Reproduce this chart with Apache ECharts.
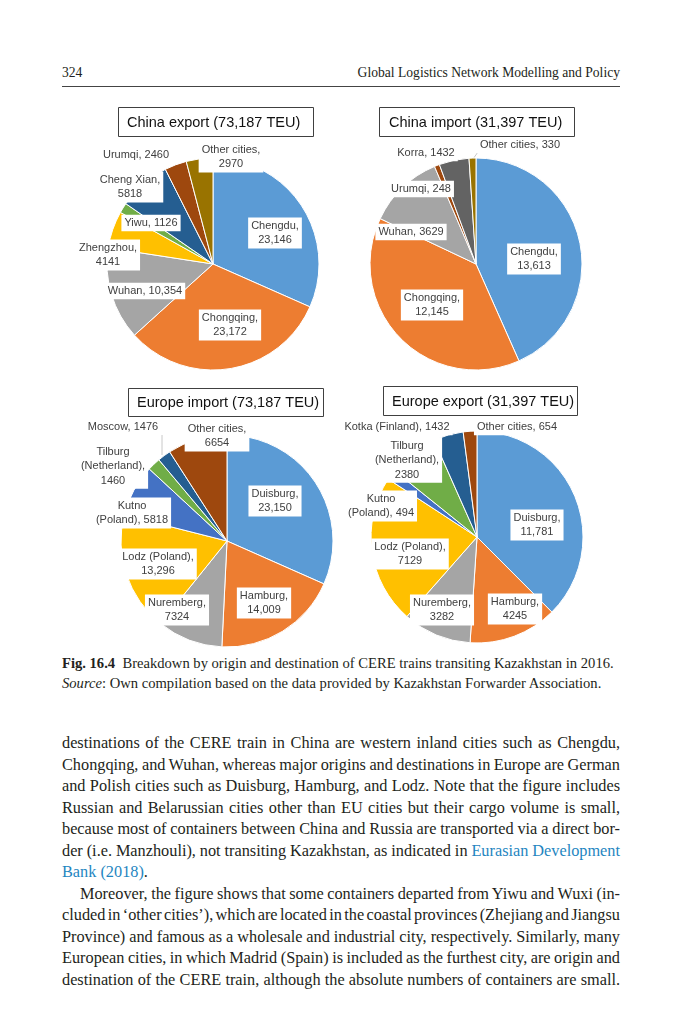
<!DOCTYPE html>
<html><head><meta charset="utf-8">
<script src="https://cdn.jsdelivr.net/npm/echarts@6/dist/echarts.min.js"></script>
<style>
html,body{margin:0;padding:0;background:#fff}
#page{position:relative;width:682px;height:1024px;overflow:hidden;font-family:"Liberation Serif","Times New Roman",serif;color:#231f20;background:#fff}
.abs{position:absolute;white-space:nowrap}
#chart{position:absolute;left:0;top:0;width:682px;height:1024px;z-index:2}
.ln{position:absolute;left:62px;width:558px;white-space:nowrap;font-size:16.3px;line-height:21px;height:21px}
.cap{position:absolute;left:62px;white-space:nowrap;font-size:14.6px;line-height:18px}
a{color:#1f86c1;text-decoration:none}
</style></head>
<body><div id="page">
<div class="abs" style="left:62px;top:65px;font-size:13.6px;line-height:16px">324</div>
<div class="abs" style="right:62px;top:65px;font-size:13.6px;line-height:16px">Global Logistics Network Modelling and Policy</div>
<div class="abs" style="left:62px;top:86px;width:558px;height:1px;background:#444"></div>

<div class="cap" style="top:654px"><b>Fig. 16.4</b>&nbsp;&nbsp;Breakdown by origin and destination of CERE trains transiting Kazakhstan in 2016.</div>
<div class="cap" style="top:674px"><i>Source</i>: Own compilation based on the data provided by Kazakhstan Forwarder Association.</div>

<div class="ln j" style="top:732px"><span>destinations of the CERE train in China are western inland cities such as Chengdu,</span></div>
<div class="ln j" style="top:754px"><span>Chongqing, and Wuhan, whereas major origins and destinations in Europe are German</span></div>
<div class="ln j" style="top:775px"><span>and Polish cities such as Duisburg, Hamburg, and Lodz. Note that the figure includes</span></div>
<div class="ln j" style="top:797px"><span>Russian and Belarussian cities other than EU cities but their cargo volume is small,</span></div>
<div class="ln j" style="top:818px"><span>because most of containers between China and Russia are transported via a direct bor-</span></div>
<div class="ln j" style="top:840px"><span>der (i.e. Manzhouli), not transiting Kazakhstan, as indicated in <a>Eurasian Development</a></span></div>
<div class="ln" style="top:861px"><span><a>Bank (2018)</a>.</span></div>
<div class="ln j" style="top:883px;left:80px;width:540px"><span>Moreover, the figure shows that some containers departed from Yiwu and Wuxi (in-</span></div>
<div class="ln j" style="top:904px"><span>cluded in ‘other cities’), which are located in the coastal provinces (Zhejiang and Jiangsu</span></div>
<div class="ln j" style="top:926px"><span>Province) and famous as a wholesale and industrial city, respectively. Similarly, many</span></div>
<div class="ln j" style="top:947px"><span>European cities, in which Madrid (Spain) is included as the furthest city, are origin and</span></div>
<div class="ln j" style="top:969px"><span>destination of the CERE train, although the absolute numbers of containers are small.</span></div>

<div id="chart"></div>
</div>
<script>
// ---------------- DATA ----------------
const TITLES = ['China export (73,187 TEU)', 'China import (31,397 TEU)', 'Europe import (73,187 TEU)', 'Europe export (31,397 TEU)'];

const CN_EXP_CAT = ['Chengdu', 'Chongqing', 'Wuhan', 'Zhengzhou', 'Yiwu', 'Cheng Xian', 'Urumqi', 'Other cities'];
const CN_EXP_VAL = [23146, 23172, 10354, 4141, 1126, 5818, 2460, 2970];

const CN_IMP_CAT = ['Chengdu', 'Chongqing', 'Wuhan', 'Urumqi', 'Korra', 'Other cities'];
const CN_IMP_VAL = [13613, 12145, 3629, 248, 1432, 330];

const EU_IMP_CAT = ['Duisburg', 'Hamburg', 'Nuremberg', 'Lodz (Poland)', 'Kutno (Poland)', 'Tilburg (Netherland)', 'Moscow', 'Other cities'];
const EU_IMP_VAL = [23150, 14009, 7324, 13296, 5818, 1460, 1476, 6654];

const EU_EXP_CAT = ['Duisburg', 'Hamburg', 'Nuremberg', 'Lodz (Poland)', 'Kutno (Poland)', 'Tilburg (Netherland)', 'Kotka (Finland)', 'Other cities'];
const EU_EXP_VAL = [11781, 4245, 3282, 7129, 494, 2380, 1432, 654];

// ---------------- STYLE / LAYOUT ----------------
const C = {blue:'#5B9BD5', orange:'#ED7D31', gray:'#A5A5A5', gold:'#FFC000', blue2:'#4472C4', green:'#70AD47', dblue:'#255E91', brown:'#9E480E', dgray:'#636363', olive:'#997300'};
const COLORS = [
  [C.blue, C.orange, C.gray, C.gold, C.green, C.dblue, C.brown, C.olive],
  [C.blue, C.orange, C.gray, C.brown, C.dgray, C.olive],
  [C.blue, C.orange, C.gray, C.gold, C.blue2, C.green, C.dblue, C.brown],
  [C.blue, C.orange, C.gray, C.gold, C.blue2, C.green, C.dblue, C.brown]
];
const RADIUS = 106;
// label: [x, y, breakName, breakValue, linePoints]
const LAYOUT = [
  {center:[213,264], box:[118,107,195,29], textX:127, labels:[
    [275,233,0,1],[230,325,0,1],[145,291,0,0],[108,255,0,1],[151,223,0,0],[130,187,0,1],[136,155,0,0],[231,157,0,1]]},
  {center:[476,264], box:[379,107,195,29], textX:389, labels:[
    [534,259,0,1],[432,305,0,1],[411,232,0,0],[421,189,0,0],[426,153,0,0],[520,145,0,0,[[473,159],[478,152]]]]},
  {center:[227,541], box:[128,388,195,28], textX:137, labels:[
    [275,501,0,1],[264,603,0,1],[177,610,0,1],[158,564,0,1],[132,513,1,0],[113,466,1,1],[123,427,0,0,[[162,455],[162,435]]],[217,436,0,1]]},
  {center:[477,537], box:[383,386,194,29], textX:392, labels:[
    [537,525,0,1],[515,609,0,1],[442,610,0,1],[410,554,0,1],[381,506,1,0],[407,460,1,1],[397,427,0,0],[517,427,0,0]]}
];

const CATS = [CN_EXP_CAT, CN_IMP_CAT, EU_IMP_CAT, EU_EXP_CAT];
const VALS = [CN_EXP_VAL, CN_IMP_VAL, EU_IMP_VAL, EU_EXP_VAL];

function fmtNum(v){ const s = String(v); return v >= 10000 ? s.replace(/\B(?=(\d{3})+(?!\d))/g, ',') : s; }
function fmtLabel(name, v, L){
  const n = L[2] ? name.replace(' (', '\n(') : name;
  return n + (L[3] ? ',\n' : ', ') + fmtNum(v);
}

function mkSeries(k){
  const p = LAYOUT[k];
  return {
    type:'pie', center:p.center, radius:RADIUS, startAngle:90, clockwise:true,
    avoidLabelOverlap:false, animation:false, silent:true,
    itemStyle:{borderColor:'#fff', borderWidth:1},
    label:{show:true, position:'outside',
      formatter:(prm)=>fmtLabel(prm.name, prm.value, p.labels[prm.dataIndex]),
      fontFamily:'"Liberation Sans", Arial, sans-serif', fontSize:11, color:'#404040',
      backgroundColor:'#fff', padding:[1,3], lineHeight:14.5},
    labelLine:{show:false},
    labelLayout:(prm)=>{
      const L = p.labels[prm.dataIndex];
      const o = {x:L[0], y:L[1], align:'center', verticalAlign:'middle'};
      if (L[4]) o.labelLinePoints = L[4];
      return o;
    },
    data: CATS[k].map((c,i)=>{
      const d = {name:c, value:VALS[k][i], itemStyle:{color:COLORS[k][i]}};
      if (p.labels[i][4]) d.labelLine = {show:true, lineStyle:{color:'#c8c8c8', width:1}};
      return d;
    })
  };
}

const graphics = [];
LAYOUT.forEach((p,k)=>{
  graphics.push({type:'rect', shape:{x:p.box[0]+0.5, y:p.box[1]+0.5, width:p.box[2], height:p.box[3]},
    style:{fill:'#fff', stroke:'#404040', lineWidth:1}, z:10});
  graphics.push({type:'text', x:p.textX, y:p.box[1]+p.box[3]/2+1,
    style:{text:TITLES[k], font:'14.5px "Liberation Sans", Arial, sans-serif', fill:'#111', textVerticalAlign:'middle', verticalAlign:'middle'}, z:11});
});

const chart = echarts.init(document.getElementById('chart'), null, {renderer:'canvas'});
chart.setOption({
  backgroundColor:'transparent',
  animation:false,
  series:[0,1,2,3].map(mkSeries),
  graphic:graphics
});

// manual justification of body lines
document.querySelectorAll('.ln.j').forEach(el=>{
  const sp = el.querySelector('span');
  const w = sp.getBoundingClientRect().width;
  const target = el.getBoundingClientRect().width;
  const n = (sp.textContent.match(/ /g) || []).length;
  if (n > 0) el.style.wordSpacing = ((target - w) / n) + 'px';
});
</script>
</body></html>
